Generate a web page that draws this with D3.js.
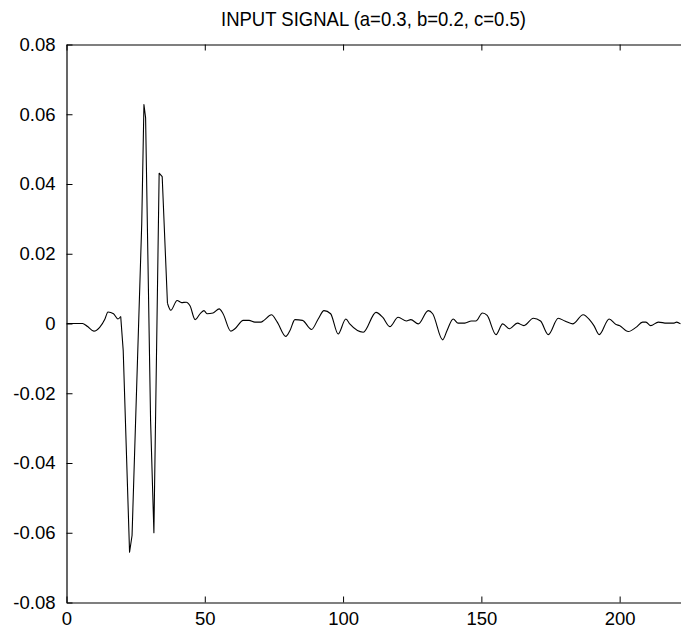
<!DOCTYPE html>
<html>
<head>
<meta charset="utf-8">
<script src="https://cdn.jsdelivr.net/npm/d3@7"></script>
<style>
  body { margin: 0; background: #fff; overflow: hidden; }
  text { font-family: "Liberation Sans", Arial, sans-serif; }
</style>
</head>
<body>
<div id="chart"></div>
<script>
// sample positions and signal values
var xs = [0, 5.8, 7.5, 9.9, 12.0, 13.9, 15.0, 17.0, 18.6, 19.6,
  20.5, 22.8, 23.7, 27.2, 28.0, 28.6, 30.4, 31.6, 33.5, 34.6,
  36.5, 37.7, 40.0, 41.6, 43.3, 44.7, 46.5, 48.5, 49.7, 50.8,
  53.0, 55.2, 56.6, 59.4, 60.9, 63.9, 66.0, 68.1, 70.3, 71.4,
  74.1, 76.2, 79.3, 80.8, 82.6, 85.3, 88.6, 91.0, 93.1, 95.5,
  98.2, 101.0, 102.5, 107.3, 111.9, 114.3, 116.9, 119.9, 122.9, 124.5,
  127.2, 130.8, 132.4, 136.0, 137.6, 139.8, 141.6, 144.0, 146.4, 148.0,
  150.4, 152.1, 155.3, 157.7, 160.2, 163.0, 165.4, 168.8, 171.4, 174.2,
  177.8, 180.2, 183.0, 186.8, 189.3, 190.7, 192.6, 196.2, 198.7, 199.9,
  203.1, 205.9, 208.3, 209.5, 211.2, 214.0, 217.0, 219.4, 220.6, 222.0];
var ys = [0, 0, -0.0008, -0.0022, -0.0011, 0.0013, 0.0033, 0.0028, 0.0013, 0.0020,
  -0.0077, -0.0656, -0.0608, 0.0285, 0.0628, 0.0590, -0.0278, -0.0600, 0.0431, 0.0421,
  0.0058, 0.0038, 0.0066, 0.0060, 0.0061, 0.0050, 0.0011, 0.0030, 0.0037, 0.0028,
  0.0030, 0.0042, 0.0028, -0.0022, -0.0015, 0.0009, 0.0009, 0.0004, 0.0004, 0.0009,
  0.0025, 0.0004, -0.0037, -0.0020, 0.0011, 0.0009, -0.0017, 0.0013, 0.0037, 0.0028,
  -0.0030, 0.0013, -0.0002, -0.0025, 0.0032, 0.0018, -0.0009, 0.0018, 0.0007, 0.0011,
  -0.0001, 0.0037, 0.0028, -0.0047, -0.0020, 0.0013, 0.0001, 0.0001, 0.0007, 0.0007,
  0.0030, 0.0023, -0.0032, -0.0001, -0.0015, 0.0001, -0.0006, 0.0015, 0.0007, -0.0032,
  0.0015, 0.0007, -0.0001, 0.0025, 0.0009, -0.0006, -0.0032, 0.0013, -0.0003, -0.0006,
  -0.0023, -0.0011, 0.0004, 0.0004, -0.0006, 0.0004, 0.0001, 0.0001, 0.0004, -0.0001];

var xTicks = [0, 50, 100, 150, 200];
var yTicks = [-0.08, -0.06, -0.04, -0.02, 0, 0.02, 0.04, 0.06, 0.08];
var xMax = 222;
var title = "INPUT SIGNAL (a=0.3, b=0.2, c=0.5)";

var W = 681, H = 630;
var padL = 66.5, padR = 680.5, padT = 44.5, padB = 602.5;

var svg = d3.select("#chart").append("svg")
  .attr("width", W).attr("height", H);

var x = d3.scaleLinear().domain([0, xMax]).range([padL, padR]);
var y = d3.scaleLinear().domain([-0.08, 0.08]).range([padB, padT]);

svg.append("clipPath").attr("id", "clip")
  .append("rect").attr("x", padL).attr("y", padT - 2)
  .attr("width", padR - padL + 2).attr("height", padB - padT + 4);

// signal: smooth for the small wiggles, straight through the big spikes
var pts = ys.map(function (v, i) { return [xs[i], v]; });
var spikeFrom = 9, spikeTo = 20;

var smooth = d3.line()
  .x(function (d) { return x(d[0]); })
  .y(function (d) { return y(d[1]); })
  .curve(d3.curveMonotoneX);
var straight = d3.line()
  .x(function (d) { return x(d[0]); })
  .y(function (d) { return y(d[1]); });

var parts = [
  [pts.slice(0, spikeFrom + 1), smooth],
  [pts.slice(spikeFrom, spikeTo + 1), straight],
  [pts.slice(spikeTo), smooth]
];

svg.append("g").attr("clip-path", "url(#clip)")
  .selectAll("path")
  .data(parts)
  .enter().append("path")
  .attr("fill", "none")
  .attr("stroke", "#000")
  .attr("stroke-width", 1.1)
  .attr("stroke-linejoin", "round")
  .attr("d", function (p) { return p[1](p[0]); });

// axes, ticks pointing inward like matlab
var fmt = function (d) { return d === 0 ? "0" : d.toFixed(2); };

var xAxis = svg.append("g").attr("transform", "translate(0," + padB + ")")
  .call(d3.axisBottom(x).tickValues(xTicks).tickSizeInner(-6).tickSizeOuter(0).tickPadding(9).tickFormat(d3.format("d")));
var xTop = svg.append("g").attr("transform", "translate(0," + padT + ")")
  .call(d3.axisTop(x).tickValues(xTicks).tickSizeInner(-6).tickSizeOuter(0).tickFormat(""));
var yAxis = svg.append("g").attr("transform", "translate(" + padL + ",0)")
  .call(d3.axisLeft(y).tickValues(yTicks).tickSizeInner(-6).tickSizeOuter(0).tickPadding(11).tickFormat(fmt));

[xAxis, xTop, yAxis].forEach(function (g) {
  g.select(".domain").attr("stroke", "#000").attr("stroke-width", 1.2);
  g.selectAll(".tick line").attr("stroke", "#000");
  g.selectAll(".tick text")
    .attr("fill", "#000")
    .style("font-family", "'Liberation Sans', Arial, sans-serif")
    .style("font-size", "18.5px");
});

// matlab title is a condensed face; squeeze the regular one to the same width
svg.append("text")
  .attr("x", (padL + padR) / 2)
  .attr("y", 26)
  .attr("text-anchor", "middle")
  .attr("textLength", 305)
  .attr("lengthAdjust", "spacingAndGlyphs")
  .style("font-family", "'Liberation Sans', Arial, sans-serif")
  .style("font-size", "21px")
  .text(title);
</script>
</body>
</html>
